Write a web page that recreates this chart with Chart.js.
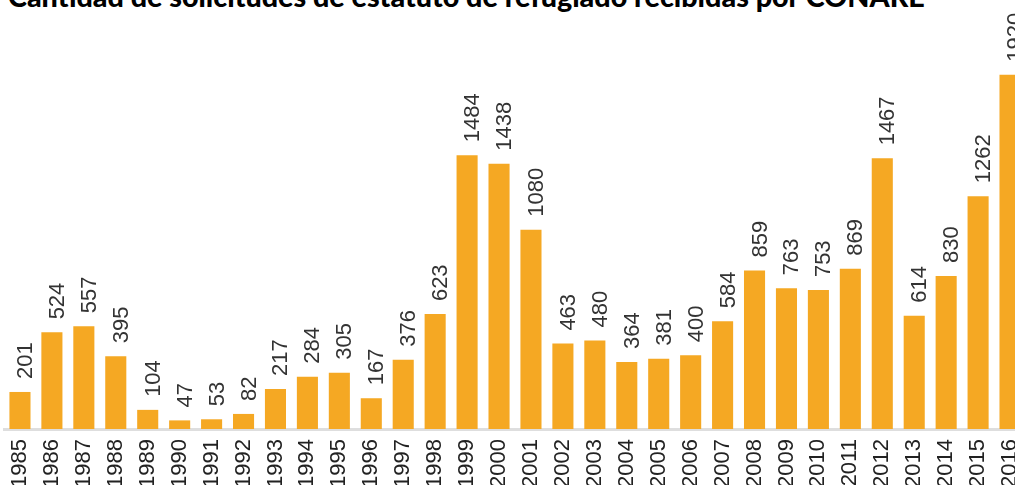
<!DOCTYPE html>
<html>
<head>
<meta charset="utf-8">
<script src="https://cdn.jsdelivr.net/npm/chart.js@4/dist/chart.umd.min.js"></script>
<style>
  html, body { margin: 0; padding: 0; background: #fff; overflow: hidden; width: 1015px; height: 485px; }
  #title { position: absolute; left: 8px; top: -21px; margin: 0; font: 900 28.7px Lato, sans-serif; color: #000; white-space: nowrap; }
  #wrap { position: absolute; left: 0; top: 0; width: 1030px; height: 498px; }
</style>
</head>
<body>
<h1 id="title">Cantidad de solicitudes de estatuto de refugiado recibidas por CONARE</h1>
<div id="wrap"><canvas id="myChart"></canvas></div>
<script>
const years = ["1985", "1986", "1987", "1988", "1989", "1990", "1991", "1992", "1993", "1994", "1995",
  "1996", "1997", "1998", "1999", "2000", "2001", "2002", "2003", "2004", "2005", "2006", "2007",
  "2008", "2009", "2010", "2011", "2012", "2013", "2014", "2015", "2016"];
const requests = [201, 524, 557, 395, 104, 47, 53, 82, 217, 284, 305, 167, 376, 623, 1484, 1438,
  1080, 463, 480, 364, 381, 400, 584, 859, 763, 753, 869, 1467, 614, 830, 1262, 1920];

// value labels, rotated, above each bar
const barLabels = {
  id: "barLabels",
  afterDatasetsDraw(chart) {
    const ctx = chart.ctx;
    const meta = chart.getDatasetMeta(0);
    ctx.save();
    ctx.font = "22px 'Liberation Sans', Arial, sans-serif";
    ctx.fillStyle = "#333";
    ctx.textAlign = "left";
    ctx.textBaseline = "alphabetic";
    meta.data.forEach((bar, i) => {
      ctx.save();
      ctx.translate(bar.x + 12, bar.y - 13);
      ctx.rotate(-Math.PI / 2);
      ctx.fillText(String(requests[i]), 0, 0);
      ctx.restore();
    });
    ctx.restore();
  }
};

new Chart("myChart", {
  type: "bar",
  data: {
    labels: years,
    datasets: [{
      data: requests,
      backgroundColor: "#F5A823",
      borderWidth: 0,
      categoryPercentage: 1,
      barPercentage: 0.66,
    }],
  },
  options: {
    responsive: true,
    maintainAspectRatio: false,
    animation: false,
    layout: { padding: { left: 4, right: 4, top: 60, bottom: 0 } },
    plugins: { legend: { display: false }, tooltip: { enabled: false } },
    scales: {
      x: {
        grid: { display: false, drawTicks: false },
        border: { color: "#dedede", width: 3 },
        afterFit(scale) {
          scale.paddingLeft = 0;
          scale.paddingRight = 0;
        },
        ticks: {
          autoSkip: false,
          minRotation: 90,
          maxRotation: 90,
          padding: 10,
          color: "#222",
          font: { family: "'Liberation Sans', Arial, sans-serif", size: 22 },
        },
      },
      y: { display: false, min: 0, max: 2000 },
    },
  },
  plugins: [barLabels],
});
</script>
</body>
</html>
